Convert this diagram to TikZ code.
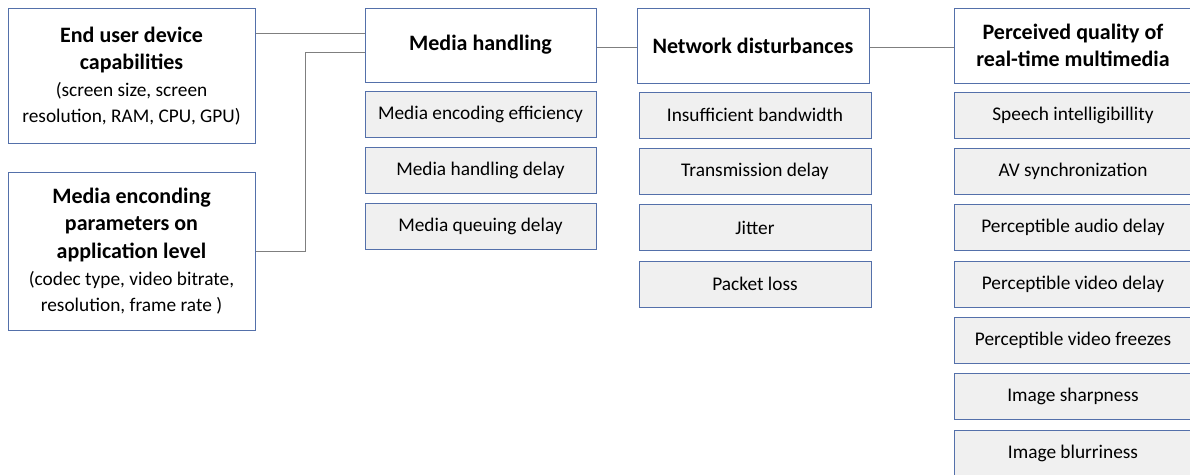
\documentclass[tikz,border=0pt]{standalone}
\usepackage{fontspec}
\setmainfont{Carlito}
\newcommand\notefont{\fontsize{14.5}{18}\selectfont\mdseries}
\begin{document}
\begin{tikzpicture}[x=0.75pt,y=0.75pt,yscale=-1,
  head/.style={draw={rgb, 255:red, 84; green, 112; blue, 170 },line width=0.75pt,fill=white,inner sep=0pt,align=center,font=\fontsize{16.5}{20.5}\selectfont\bfseries},
  item/.style={draw={rgb, 255:red, 84; green, 112; blue, 170 },line width=0.75pt,fill={rgb, 255:red, 240; green, 240; blue, 240 },inner sep=0pt,align=center,minimum height=34.5pt,font=\fontsize{14.5}{17}\selectfont},
  link/.style={draw={rgb, 255:red, 127; green, 127; blue, 127 },line width=0.75pt}]
\useasboundingbox (0,0) rectangle (1190,475);
\clip (0,0) rectangle (1190,475);

%Input boxes
\node [head,minimum width=185.25pt,minimum height=101.25pt] (eud) at (131.5,76) {End user device\\capabilities\\[0pt]{\notefont (screen size, screen}\\[-1pt]{\notefont resolution, RAM, CPU, GPU)}};
\node [head,minimum width=185.25pt,minimum height=118.5pt] (mep) at (131.5,251) {Media enconding\\parameters on\\application level\\[0pt]{\notefont (codec type, video bitrate,}\\[-1pt]{\notefont resolution, frame rate )}};

%Media handling
\node [head,minimum width=173.25pt,minimum height=55.5pt] (mh) at (480.5,45) {Media handling};
\node [item,minimum width=173.25pt] (mh1) at (480.5,114) {Media encoding efficiency};
\node [item,minimum width=173.25pt] (mh2) at (480.5,170) {Media handling delay};
\node [item,minimum width=173.25pt] (mh3) at (480.5,226) {Media queuing delay};

%Network disturbances
\node [head,minimum width=174pt,minimum height=56.25pt] (nd) at (753,45.5) {Network disturbances};
\node [item,minimum width=174pt] (nd1) at (755,115) {Insufficient bandwidth};
\node [item,minimum width=174pt] (nd2) at (755,171) {Transmission delay};
\node [item,minimum width=174pt] (nd3) at (755,227.5) {Jitter};
\node [item,minimum width=174pt] (nd4) at (755,284) {Packet loss};

%Perceived quality
\node [head,minimum width=178.5pt,minimum height=56.25pt] (pq) at (1073,45.5) {Perceived quality of\\real-time multimedia};
\node [item,minimum width=178.5pt] (pq1) at (1073,115) {Speech intelligibillity};
\node [item,minimum width=178.5pt] (pq2) at (1073,171) {AV synchronization};
\node [item,minimum width=178.5pt] (pq3) at (1073,227.5) {Perceptible audio delay};
\node [item,minimum width=178.5pt] (pq4) at (1073,284) {Perceptible video delay};
\node [item,minimum width=178.5pt] (pq5) at (1073,340) {Perceptible video freezes};
\node [item,minimum width=178.5pt] (pq6) at (1073,396) {Image sharpness};
\node [item,minimum width=178.5pt] (pq7) at (1073,453) {Image blurriness};

%Connectors
\coordinate (mhin1) at ([yshift=-9pt]mh.west);
\coordinate (mhin2) at ([yshift=5.25pt]mh.west);
\coordinate (mhout) at ([yshift=1.5pt]mh.east);
\coordinate (ndout) at ([yshift=1.5pt]nd.east);
\draw [link] (eud.east |- mhin1) -- (mhin1);
\draw [link] (mep.east) -- ++(50,0) |- (mhin2);
\draw [link] (mhout) -- (nd.west |- mhout);
\draw [link] (ndout) -- (pq.west |- ndout);

\end{tikzpicture}
\end{document}
